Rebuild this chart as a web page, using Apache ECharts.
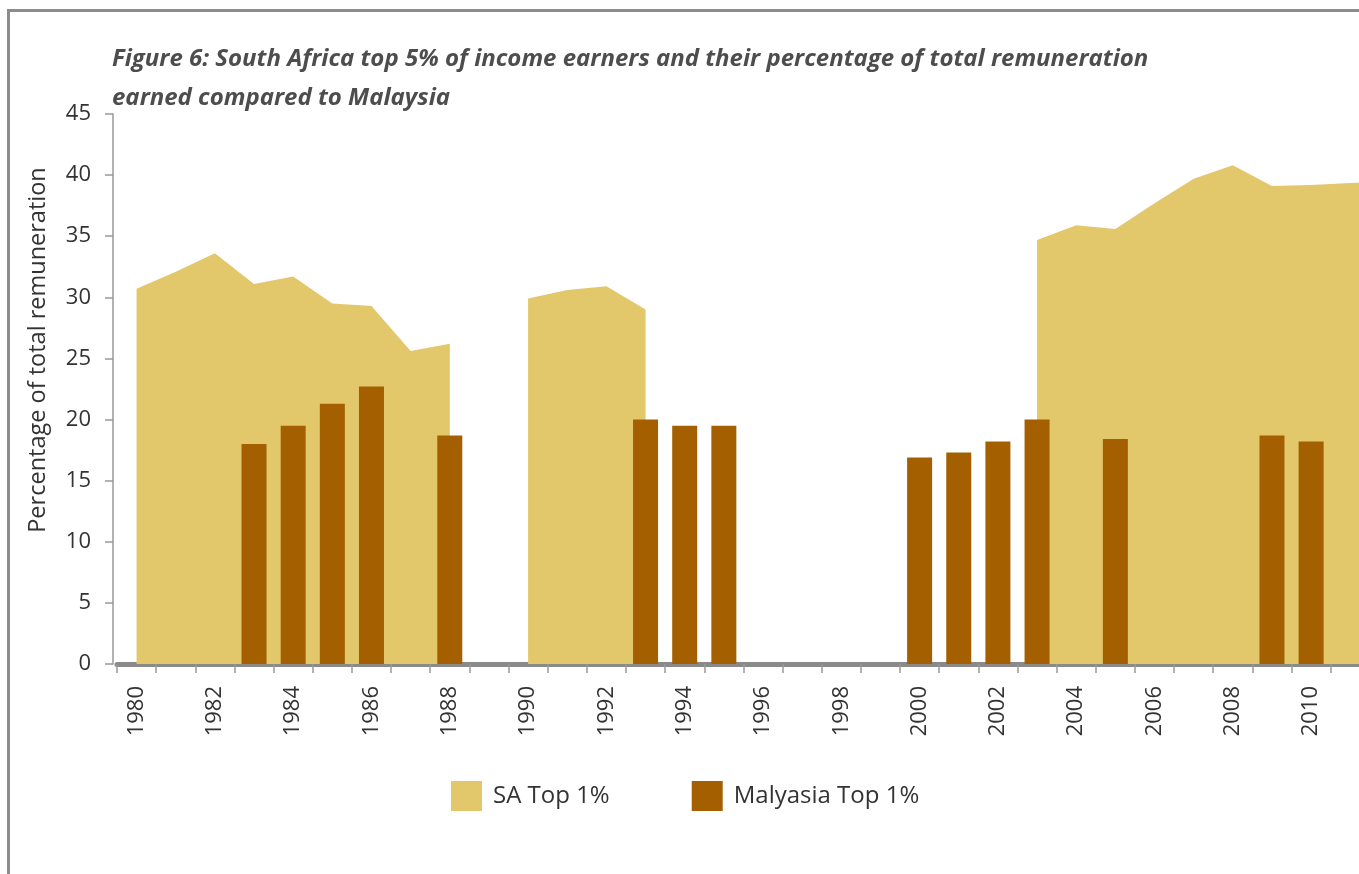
<!DOCTYPE html>
<html>
<head>
<meta charset="utf-8">
<script src="https://cdn.jsdelivr.net/npm/echarts@6/dist/echarts.min.js"></script>
<style>
html,body{margin:0;padding:0;background:#fff;overflow:hidden;}
#chart{width:1420px;height:874px;}
</style>
</head>
<body>
<div id="chart"></div>
<script>
var years = ['1980','1981','1982','1983','1984','1985','1986','1987','1988','1989',
  '1990','1991','1992','1993','1994','1995','1996','1997','1998','1999',
  '2000','2001','2002','2003','2004','2005','2006','2007','2008','2009',
  '2010','2011','2012'];

var saTop1 = [30.7,32.1,33.6,31.1,31.7,29.5,29.3,25.6,26.2,null,
  29.9,30.6,30.9,29.0,null,null,null,null,null,null,
  null,null,null,34.7,35.9,35.6,37.7,39.7,40.8,39.1,
  39.2,39.35,39.5];

var malaysiaTop1 = [null,null,null,18.0,19.5,21.3,22.7,null,18.7,null,
  null,null,null,20.0,19.5,19.5,null,null,null,null,
  16.9,17.3,18.2,20.0,null,18.4,null,null,null,18.7,
  18.2,null,null];

var yTicks = {min:0, max:45, interval:5};

var titleText = 'Figure 6: South Africa top 5% of income earners and their percentage of total remuneration\nearned compared to Malaysia';
var yName = 'Percentage of total remuneration';
var seriesNames = ['SA Top 1%', 'Malyasia Top 1%'];

var SA_COLOR = '#e2c76b';
var MY_COLOR = '#a46000';
var FONT = 'Open Sans';

var chart = echarts.init(document.getElementById('chart'), null, {renderer:'canvas'});
chart.setOption({
  animation:false,
  backgroundColor:'#fff',
  title:{
    text:titleText,
    left:112, top:40,
    padding:0,
    textStyle:{fontFamily:FONT, fontSize:24, fontWeight:'bold', fontStyle:'italic', color:'#4d4d4d', lineHeight:39}
  },
  graphic:[
    {type:'rect', silent:true, z:-1, shape:{x:8.5, y:10.5, width:2000, height:2000},
     style:{fill:'none', stroke:'#8c8c8c', lineWidth:3}},
    {type:'text', silent:true, rotation:Math.PI/2, x:38, y:350,
     style:{text:yName, fontFamily:FONT, fontSize:23.5, fill:'#333', align:'center', verticalAlign:'middle'}}
  ],
  legend:{
    left:451, top:781, padding:0,
    itemWidth:31, itemHeight:30, itemGap:82,
    textStyle:{fontFamily:FONT, fontSize:24, color:'#333', padding:[0,0,0,6]},
    data:[
      {name:seriesNames[0], icon:'rect', itemStyle:{color:SA_COLOR}},
      {name:seriesNames[1], icon:'rect', itemStyle:{color:MY_COLOR}}
    ]
  },
  grid:{left:117, top:114, width:1292, height:550, containLabel:false},
  xAxis:{
    type:'category',
    data:years,
    boundaryGap:true,
    axisLine:{show:true, lineStyle:{color:'#8a8a8a', width:5}},
    axisTick:{show:true, interval:0, length:9, lineStyle:{color:'#999', width:1.5}},
    axisLabel:{interval:1, rotate:90, margin:22, fontFamily:FONT, fontSize:22, color:'#333'},
    splitLine:{show:false}
  },
  yAxis:{
    type:'value',
    min:yTicks.min, max:yTicks.max, interval:yTicks.interval,
    offset:4,
    axisLine:{show:true, lineStyle:{color:'#999', width:1.5}},
    axisTick:{show:true, length:8, lineStyle:{color:'#999', width:1.5}},
    axisLabel:{margin:22, fontFamily:FONT, fontSize:22, color:'#333'},
    splitLine:{show:false}
  },
  series:[
    {
      name:seriesNames[0], type:'line', data:saTop1,
      symbol:'none', connectNulls:false,
      lineStyle:{width:0, color:SA_COLOR},
      itemStyle:{color:SA_COLOR},
      areaStyle:{color:SA_COLOR, opacity:1},
      z:1
    },
    {
      name:seriesNames[1], type:'bar', data:malaysiaTop1,
      barWidth:25,
      itemStyle:{color:MY_COLOR},
      z:2
    }
  ]
});
</script>
</body>
</html>
